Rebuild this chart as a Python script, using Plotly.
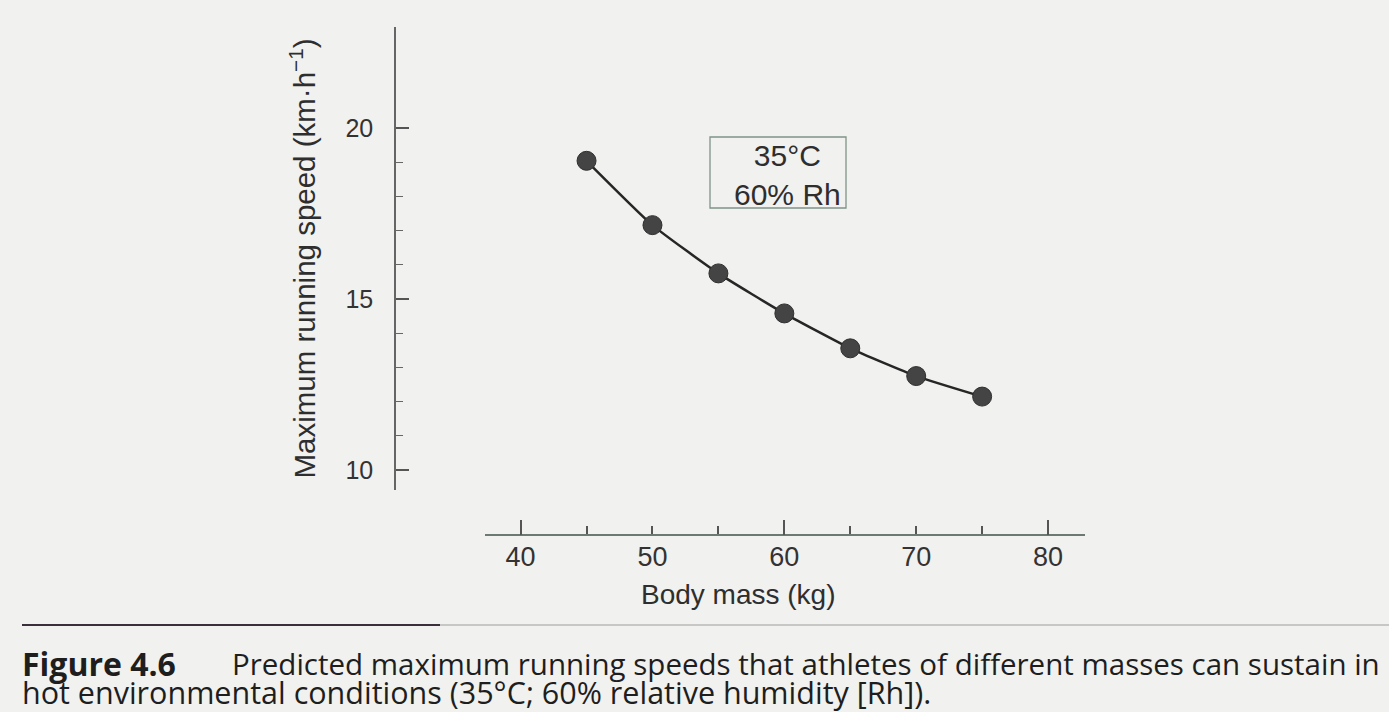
import plotly.graph_objects as go

# ---- data ----
body_mass = [45, 50, 55, 60, 65, 70, 75]
max_speed = [19.04, 17.16, 15.75, 14.58, 13.56, 12.75, 12.15]
x_tick_vals = [40, 50, 60, 70, 80]
x_minor_vals = [45, 55, 65, 75]
x_major_long = [40, 60, 80]
y_tick_vals = [10, 15, 20]
y_minor_vals = [11, 12, 13, 14, 16, 17, 18, 19]
legend_text = "35°C<br>60% Rh"
x_title = "Body mass (kg)"
y_title = "Maximum running speed (km·h<sup>−1</sup>)"
caption_label = "<b>Figure 4.6</b>"
caption_line1 = "Predicted maximum running speeds that athletes of different masses can sustain in"
caption_line2 = "hot environmental conditions (35°C; 60% relative humidity [Rh])."

W, H = 1389, 712
def px(x):
    return x / W
def py(y):
    return 1 - y / H

BG = "#f1f1ef"
INK = "#262626"
FONT = "Liberation Sans, Arial, sans-serif"
CAP_FONT = "Open Sans, Lato, sans-serif"

fig = go.Figure()
fig.add_trace(go.Scatter(
    x=body_mass, y=max_speed, mode="lines+markers",
    line=dict(color=INK, width=2.5, shape="spline", smoothing=0.5),
    marker=dict(size=19, color="#444444", line=dict(color="#303030", width=1)),
    showlegend=False, hoverinfo="x+y",
))
fig.add_trace(go.Scatter(x=[body_mass[0]], y=[max_speed[0]], xaxis="x2", mode="markers",
                         marker=dict(size=1, opacity=0), showlegend=False, hoverinfo="skip"))

xdom = [px(485), px(1085)]
ydom = [py(490), py(27)]

fig.update_layout(
    width=W, height=H,
    margin=dict(l=0, r=0, t=0, b=0),
    paper_bgcolor=BG, plot_bgcolor=BG,
    font=dict(family=FONT, color="#303030", size=26),
    xaxis=dict(
        domain=xdom, range=[37.3, 82.8], anchor="free", position=py(535),
        showgrid=False, zeroline=False, showline=True, linecolor="#6d7a74", linewidth=1.5,
        tickmode="array", tickvals=x_tick_vals, ticks="inside", ticklen=8, tickwidth=1.5,
        tickcolor="#555555", ticklabelstandoff=-2,
        minor=dict(tickmode="array", tickvals=x_minor_vals, ticks="inside", ticklen=8,
                   tickwidth=1.5, tickcolor="#555555"),
        tickfont=dict(size=27, family=FONT, color="#333333"),
    ),
    xaxis2=dict(
        domain=xdom, matches="x", overlaying="x", anchor="free", position=py(535),
        showgrid=False, zeroline=False, showline=False, showticklabels=False,
        tickmode="array", tickvals=x_major_long, ticks="inside", ticklen=15, tickwidth=1.5,
        tickcolor="#555555",
    ),
    yaxis=dict(
        domain=ydom, range=[9.42, 22.95], anchor="free", position=px(395),
        showgrid=False, zeroline=False, showline=True, linecolor="#666666", linewidth=1.5,
        tickmode="array", tickvals=y_tick_vals, ticks="inside", ticklen=13, tickwidth=1.5,
        tickcolor="#555555", ticklabelstandoff=16,
        minor=dict(tickmode="array", tickvals=y_minor_vals, ticks="inside", ticklen=7,
                   tickwidth=1.2, tickcolor="#666666"),
        tickfont=dict(size=25, family=FONT, color="#333333"),
        title=dict(text=y_title, font=dict(size=29.5, family=FONT, color="#2e2e2e"), standoff=20),
    ),
    shapes=[
        dict(type="rect", xref="paper", yref="paper", x0=px(710), x1=px(846), y0=py(208), y1=py(137),
             line=dict(color="#7f9488", width=1.3), fillcolor="rgba(0,0,0,0)", layer="below"),
        dict(type="line", xref="paper", yref="paper", x0=px(22), x1=px(440), y0=py(625), y1=py(625),
             line=dict(color="#3a2f3a", width=2)),
        dict(type="line", xref="paper", yref="paper", x0=px(440), x1=1, y0=py(625), y1=py(625),
             line=dict(color="#b8b8b8", width=1.5)),
    ],
    annotations=[
        dict(text=legend_text, xref="paper", yref="paper", x=px(787), y=py(174.5), showarrow=False,
             align="center", xanchor="center", yanchor="middle",
             font=dict(size=30, family=FONT, color="#2e2e2e")),
        dict(text=x_title, xref="paper", yref="paper", x=px(738), y=py(594), showarrow=False,
             xanchor="center", yanchor="middle", font=dict(size=28, family=FONT, color="#2e2e2e")),
        dict(text=caption_label, xref="paper", yref="paper", x=px(20), y=py(663), showarrow=False,
             xanchor="left", yanchor="middle", font=dict(size=32, family=CAP_FONT, color="#1e1e1e")),
        dict(text=caption_line1, xref="paper", yref="paper", x=px(230), y=py(663), showarrow=False,
             xanchor="left", yanchor="middle", font=dict(size=29.5, family=CAP_FONT, color="#1e1e1e")),
        dict(text=caption_line2, xref="paper", yref="paper", x=px(20), y=py(692), showarrow=False,
             xanchor="left", yanchor="middle", font=dict(size=30.5, family=CAP_FONT, color="#1e1e1e")),
    ],
)

fig.write_html("out.html", config={"displayModeBar": False},
               post_script="document.body.style.margin='0px';")
